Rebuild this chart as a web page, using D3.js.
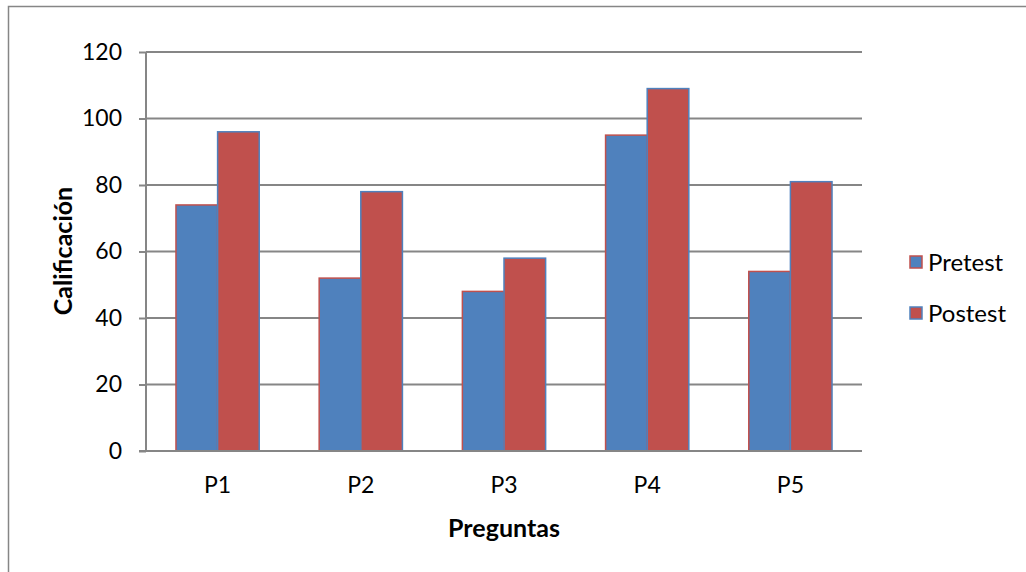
<!DOCTYPE html>
<html>
<head>
<meta charset="utf-8">
<script src="https://cdn.jsdelivr.net/npm/d3@7"></script>
<style>
  body { margin: 0; background: #fff; }
  svg { display: block; font-family: Lato, "Open Sans", sans-serif; }
</style>
</head>
<body>
<div id="chart"></div>
<script>
// Chart data
const categories = ["P1", "P2", "P3", "P4", "P5"];
const pretest = [74, 52, 48, 95, 54];
const postest = [96, 78, 58, 109, 81];
const seriesNames = ["Pretest", "Postest"];
const yTicks = [0, 20, 40, 60, 80, 100, 120];

const width = 1026, height = 572;
const margin = { left: 146, right: 164, top: 52, bottom: 121 };
const innerW = width - margin.left - margin.right;
const innerH = height - margin.top - margin.bottom;

const blue = "#4F81BD", red = "#C0504D", grey = "#868686";
const fills = [blue, red];
const strokes = [red, blue];

const svg = d3.select("#chart").append("svg")
  .attr("width", width).attr("height", height);

// outer chart border
svg.append("rect")
  .attr("x", 8.5).attr("y", 6.5)
  .attr("width", 1030).attr("height", 580)
  .attr("fill", "none").attr("stroke", grey).attr("stroke-width", 1.5);

const g = svg.append("g").attr("transform", `translate(${margin.left},${margin.top})`);

const x = d3.scaleBand().domain(categories).range([0, innerW]).paddingInner(0).paddingOuter(0);
const x1 = d3.scaleBand().domain(seriesNames).range([0, x.bandwidth()]).paddingInner(0).paddingOuter(0.72);
const y = d3.scaleLinear().domain([0, 120]).range([innerH, 0]);

// gridlines
g.selectAll(".grid")
  .data(yTicks.filter(d => d > 0))
  .join("line")
  .attr("x1", 0).attr("x2", innerW)
  .attr("y1", d => y(d)).attr("y2", d => y(d))
  .attr("stroke", grey).attr("stroke-width", 2);

// bars
const rows = categories.map((c, i) => ({ cat: c, vals: [pretest[i], postest[i]] }));
const groups = g.selectAll(".cat")
  .data(rows)
  .join("g")
  .attr("transform", d => `translate(${x(d.cat)},0)`);

groups.selectAll("rect")
  .data(d => d.vals.map((v, j) => ({ name: seriesNames[j], v, j })))
  .join("rect")
  .attr("x", d => x1(d.name))
  .attr("y", d => y(d.v))
  .attr("width", x1.bandwidth())
  .attr("height", d => innerH - y(d.v))
  .attr("fill", d => fills[d.j])
  .attr("stroke", d => strokes[d.j])
  .attr("stroke-width", 1.5);

// y axis
const yAxis = g.append("g")
  .call(d3.axisLeft(y).tickValues(yTicks).tickSize(7).tickPadding(17));
yAxis.select(".domain").attr("stroke", grey).attr("stroke-width", 2).attr("d", `M0,${innerH}V0`);
yAxis.selectAll(".tick line").attr("stroke", grey).attr("stroke-width", 2);
yAxis.selectAll(".tick text").attr("fill", "#000").style("font-size", "23px")
  .style("font-family", "Lato, sans-serif");

// x axis
const xAxis = g.append("g")
  .attr("transform", `translate(0,${innerH})`)
  .call(d3.axisBottom(x).tickSize(0).tickPadding(26));
xAxis.select(".domain").attr("stroke", grey).attr("stroke-width", 2).attr("d", `M-7,0H${innerW}`);
xAxis.selectAll(".tick text").attr("fill", "#000").style("font-size", "23px")
  .style("font-family", "Lato, sans-serif");

// axis titles
svg.append("text")
  .attr("x", margin.left + innerW / 2)
  .attr("y", 537)
  .attr("text-anchor", "middle")
  .style("font-size", "25px").style("font-weight", "bold")
  .text("Preguntas");

svg.append("text")
  .attr("transform", "translate(72,251) rotate(-90)")
  .attr("text-anchor", "middle")
  .style("font-size", "25px").style("font-weight", "bold")
  .text("Calificación");

// legend
const legend = svg.append("g").attr("transform", "translate(910,262)");
const items = legend.selectAll("g")
  .data(seriesNames)
  .join("g")
  .attr("transform", (d, i) => `translate(0,${i * 51})`);
items.append("rect")
  .attr("x", 0).attr("y", -6)
  .attr("width", 12).attr("height", 12)
  .attr("fill", (d, i) => fills[i])
  .attr("stroke", (d, i) => strokes[i])
  .attr("stroke-width", 1.5);
items.append("text")
  .attr("x", 18).attr("y", 0)
  .attr("dy", "0.36em")
  .style("font-size", "24px")
  .text(d => d);
</script>
</body>
</html>
